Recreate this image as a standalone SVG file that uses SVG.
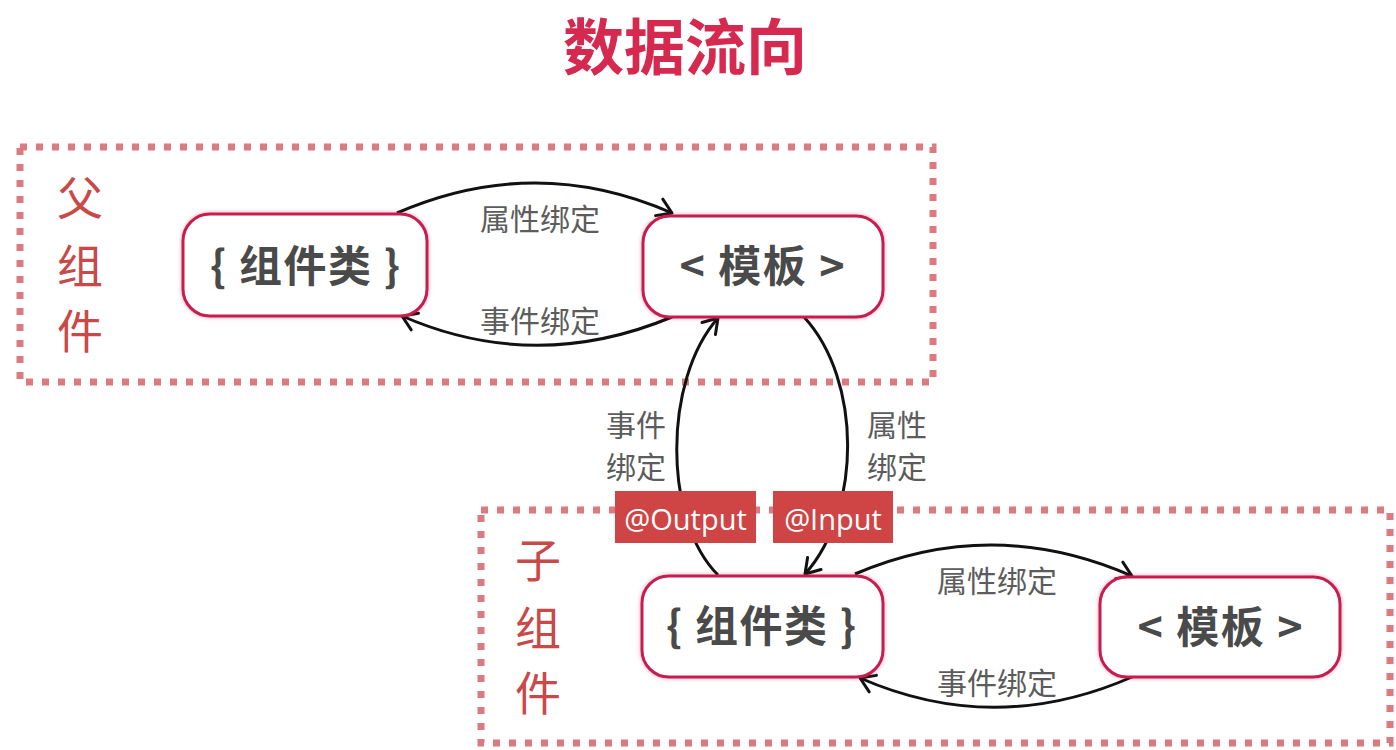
<svg xmlns="http://www.w3.org/2000/svg" width="1396" height="750" viewBox="0 0 1396 750">
  <style>
    .frame { fill: none; stroke: #db7b80; stroke-width: 7; stroke-dasharray: 7 9; }
    .node rect { fill: #ffffff; stroke: #c81d4e; stroke-width: 3; filter: url(#glow); }
    .node text { font-family: "Noto Sans CJK SC", "Noto Sans", sans-serif; font-weight: bold; font-size: 43px; fill: #4a4a4a; text-anchor: middle; }
    .side { font-family: "Noto Sans CJK SC", sans-serif; font-size: 46px; fill: #c94848; text-anchor: middle; }
    .edge { fill: none; stroke: #111111; stroke-width: 3; marker-end: url(#arrow); }
    .lbl { font-family: "Noto Sans CJK SC", sans-serif; font-size: 30px; fill: #5c5c5c; text-anchor: middle; }
    .badge rect { fill: #cf4444; }
    .badge text { font-family: "Open Sans", "Noto Sans", sans-serif; font-size: 29px; fill: #ffffff; text-anchor: middle; }
    .title { font-family: "Noto Sans CJK SC", sans-serif; font-weight: bold; font-size: 61px; fill: #d6294f; text-anchor: middle; }
  </style>
  <defs>
    <filter id="glow" x="-10%" y="-10%" width="120%" height="120%">
      <feDropShadow dx="0" dy="0" stdDeviation="2" flood-color="#c81d4e" flood-opacity="0.35"/>
    </filter>
    <marker id="arrow" markerUnits="userSpaceOnUse" markerWidth="26" markerHeight="26" viewBox="0 0 26 26" refX="19" refY="13" orient="auto">
      <path d="M5,4 L19,13 L5,22" fill="none" stroke="#111111" stroke-width="3" stroke-linecap="round" stroke-linejoin="round"/>
    </marker>
  </defs>

  <rect width="1396" height="750" fill="#ffffff"/>

  <text class="title" x="685" y="70">数据流向</text>

  <g id="parent-frame">
    <rect class="frame" x="20" y="147" width="913" height="235"/>
    <text class="side" x="80" y="215">父</text>
    <text class="side" x="80" y="283">组</text>
    <text class="side" x="80" y="348">件</text>
  </g>

  <g id="child-frame">
    <rect class="frame" x="481" y="510" width="909" height="233"/>
    <text class="side" x="538" y="577">子</text>
    <text class="side" x="538" y="645">组</text>
    <text class="side" x="538" y="710">件</text>
  </g>

  <g id="connectors">
    <path class="edge" d="M397,213 Q535,153 672,213"/>
    <path class="edge" d="M672,317 Q535,374 402,316"/>
    <path class="edge" d="M718,575 C663,520 663,380 718,318"/>
    <path class="edge" d="M804,317 C862,380 862,510 805,574"/>
    <path class="edge" d="M855,574 Q993,515 1132,576"/>
    <path class="edge" d="M1132,677 Q995,737 860,678"/>
    <text class="lbl" x="540" y="230">属性绑定</text>
    <text class="lbl" x="540" y="332">事件绑定</text>
    <text class="lbl" x="636" y="436">事件</text>
    <text class="lbl" x="636" y="478">绑定</text>
    <text class="lbl" x="897" y="436">属性</text>
    <text class="lbl" x="897" y="478">绑定</text>
    <text class="lbl" x="997" y="592">属性绑定</text>
    <text class="lbl" x="997" y="694">事件绑定</text>
  </g>

  <g id="badge-output" class="badge">
    <rect x="615" y="491" width="141" height="52"/>
    <text x="685.5" y="530">@Output</text>
  </g>
  <g id="badge-input" class="badge">
    <rect x="773" y="491" width="120" height="52"/>
    <text x="833" y="530">@Input</text>
  </g>

  <g id="parent-class" class="node">
    <rect x="183" y="214" width="244" height="102" rx="27"/>
    <text x="305" y="282" textLength="190" lengthAdjust="spacing">{ 组件类 }</text>
  </g>
  <g id="parent-template" class="node">
    <rect x="643" y="216" width="240" height="101" rx="27"/>
    <text x="762" y="282" textLength="165" lengthAdjust="spacing">&lt; 模板 &gt;</text>
  </g>
  <g id="child-class" class="node">
    <rect x="642" y="576" width="241" height="101" rx="27"/>
    <text x="761" y="642" textLength="190" lengthAdjust="spacing">{ 组件类 }</text>
  </g>
  <g id="child-template" class="node">
    <rect x="1100" y="577" width="240" height="100" rx="27"/>
    <text x="1220" y="643" textLength="165" lengthAdjust="spacing">&lt; 模板 &gt;</text>
  </g>
</svg>
